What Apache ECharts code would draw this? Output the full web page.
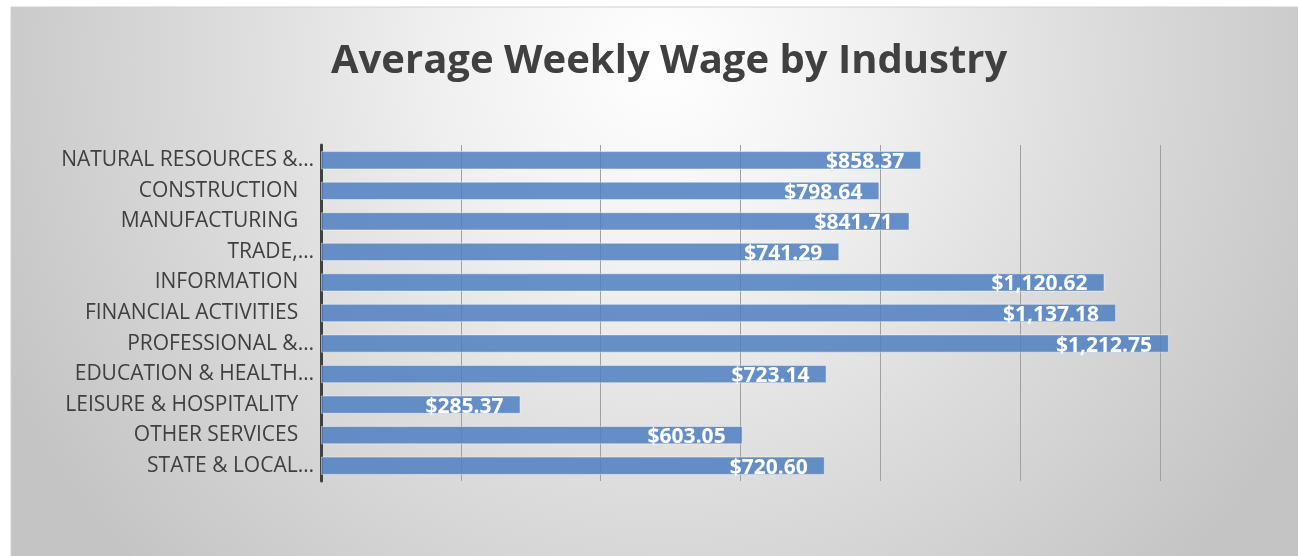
<!DOCTYPE html>
<html><head><meta charset="utf-8">
<script src="https://cdn.jsdelivr.net/npm/echarts@6/dist/echarts.min.js"></script>
<style>html,body{margin:0;padding:0;background:#fff}#c{width:1298px;height:556px}</style>
</head><body><div id="c"></div>
<script>
const titleText = 'Average Weekly Wage by Industry';
const categories = ['NATURAL RESOURCES &…', 'CONSTRUCTION', 'MANUFACTURING', 'TRADE,…', 'INFORMATION', 'FINANCIAL ACTIVITIES', 'PROFESSIONAL &…', 'EDUCATION & HEALTH…', 'LEISURE & HOSPITALITY', 'OTHER SERVICES', 'STATE & LOCAL…'];
const wages = [858.37, 798.64, 841.71, 741.29, 1120.62, 1137.18, 1212.75, 723.14, 285.37, 603.05, 720.60];

const chart = echarts.init(document.getElementById('c'));
const fmt = v => '$' + v.toLocaleString('en-US', {minimumFractionDigits: 2, maximumFractionDigits: 2});
chart.setOption({
  backgroundColor: '#ffffff',
  graphic: [{
    type: 'rect', z: -10, silent: true,
    shape: {x: 11, y: 7, width: 1300, height: 560},
    style: {
      fill: {type: 'radial', x: 0.5, y: 0.1, r: 1.3, colorStops: [
        {offset: 0, color: '#ffffff'}, {offset: 0.3, color: '#f0f0f0'}, {offset: 0.6, color: '#dcdcdc'}, {offset: 1, color: '#c4c4c4'}]},
      stroke: '#d0d0d0', lineWidth: 1
    }
  }],
  title: {
    text: titleText, left: 326, top: 37,
    textStyle: {fontFamily: 'Open Sans', fontWeight: 'bold', fontSize: 40, color: '#404040'}
  },
  grid: {left: 321, right: 138, top: 145, bottom: 75},
  xAxis: {
    type: 'value', min: 0, max: 1200, interval: 200,
    axisLabel: {show: false}, axisLine: {show: false}, axisTick: {show: false},
    splitLine: {show: true, lineStyle: {color: '#a0a0a0', width: 1}}
  },
  yAxis: {
    type: 'category', data: categories, inverse: true,
    axisLine: {show: true, lineStyle: {color: '#404040', width: 3}},
    axisTick: {show: false},
    axisLabel: {
      fontFamily: 'Open Sans', fontSize: 21, color: '#404040', margin: 7,
      padding: [4, 0, 0, 0],
      formatter: v => v.endsWith('…') ? v : v + '\u2002\u2005'
    }
  },
  series: [{
    type: 'bar', data: wages, clip: false, barCategoryGap: '40%',
    itemStyle: {color: 'rgba(77,127,191,0.85)', borderColor: 'rgba(255,255,255,0.45)', borderWidth: 1},
    label: {
      show: true, position: 'insideRight', distance: 17, offset: [0, 2],
      formatter: p => fmt(p.value),
      fontFamily: 'Open Sans', fontWeight: 'bold', fontSize: 21, color: '#ffffff'
    },
    z: 1
  }]
});
</script></body></html>
